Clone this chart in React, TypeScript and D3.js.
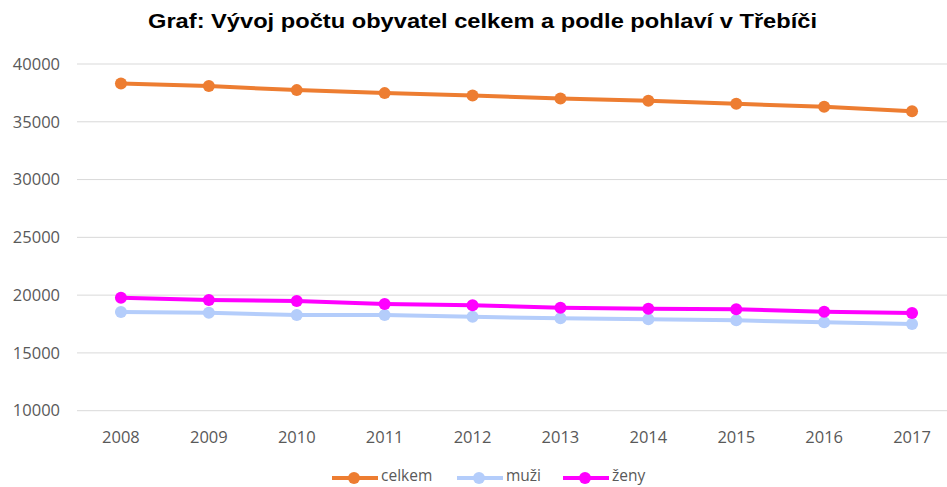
import React from "react";
import * as d3 from "d3";

const years = ["2008", "2009", "2010", "2011", "2012", "2013", "2014", "2015", "2016", "2017"];
const celkem = [38320, 38090, 37740, 37480, 37280, 37020, 36815, 36560, 36300, 35920];
const muzi = [18540, 18480, 18280, 18280, 18130, 17990, 17910, 17820, 17650, 17500];
const zeny = [19775, 19580, 19490, 19230, 19120, 18910, 18820, 18770, 18560, 18450];
const yTicks = [10000, 15000, 20000, 25000, 30000, 35000, 40000];

const series = [
  { name: "celkem", values: celkem, color: "#ED7D31" },
  { name: "muži", values: muzi, color: "#B4CDFB" },
  { name: "ženy", values: zeny, color: "#FF00FF" },
];

const W = 947;
const H = 487;

export default function App() {
  const x = d3.scaleBand<string>().domain(years).range([77, 956]);
  const y = d3.scaleLinear().domain([10000, 40000]).range([410.7, 64]);
  const line = d3
    .line<number>()
    .x((_, i) => (x(years[i]) as number) + x.bandwidth() / 2)
    .y((d) => y(d));
  const font = "'Open Sans', 'Liberation Sans', sans-serif";
  const legendItems = [
    { s: series[0], x0: 332 },
    { s: series[1], x0: 457 },
    { s: series[2], x0: 563 },
  ];
  const ly = 476;
  return (
    <svg width={W} height={H} style={{ position: "absolute", left: 0, top: 0, background: "#fff" }}>
      <rect width={W} height={H} fill="#fff" />
      <text
        x={482.5}
        y={28}
        textAnchor="middle"
        fontFamily="'Liberation Sans', Arial, sans-serif"
        fontWeight="bold"
        fontSize={20}
        textLength={669}
        lengthAdjust="spacingAndGlyphs"
        fill="#000"
      >
        Graf: Vývoj počtu obyvatel celkem a podle pohlaví v Třebíči
      </text>
      {yTicks.map((t) => (
        <g key={t}>
          <line x1={77} x2={947} y1={y(t)} y2={y(t)} stroke="#D9D9D9" strokeWidth={1} />
          <text
            x={60}
            y={y(t)}
            dy="0.35em"
            textAnchor="end"
            fontFamily={font}
            fontSize={16.5}
            fill="#595959"
          >
            {t}
          </text>
        </g>
      ))}
      {years.map((yr) => (
        <text
          key={yr}
          x={(x(yr) as number) + x.bandwidth() / 2}
          y={437}
          dy="0.35em"
          textAnchor="middle"
          fontFamily={font}
          fontSize={16.5}
          fill="#595959"
        >
          {yr}
        </text>
      ))}
      {series.map((s) => (
        <g key={s.name}>
          <path d={line(s.values) || ""} fill="none" stroke={s.color} strokeWidth={4} strokeLinejoin="round" />
          {s.values.map((v, i) => (
            <circle
              key={i}
              cx={(x(years[i]) as number) + x.bandwidth() / 2}
              cy={y(v)}
              r={6}
              fill={s.color}
            />
          ))}
        </g>
      ))}
      {legendItems.map(({ s, x0 }) => (
        <g key={s.name}>
          <line x1={x0} x2={x0 + 46} y1={ly + 2} y2={ly + 2} stroke={s.color} strokeWidth={4} />
          <circle cx={x0 + 22} cy={ly + 2} r={6} fill={s.color} />
          <text x={x0 + 49} y={ly} dy="0.35em" fontFamily={font} fontSize={15.5} fill="#595959">
            {s.name}
          </text>
        </g>
      ))}
    </svg>
  );
}
